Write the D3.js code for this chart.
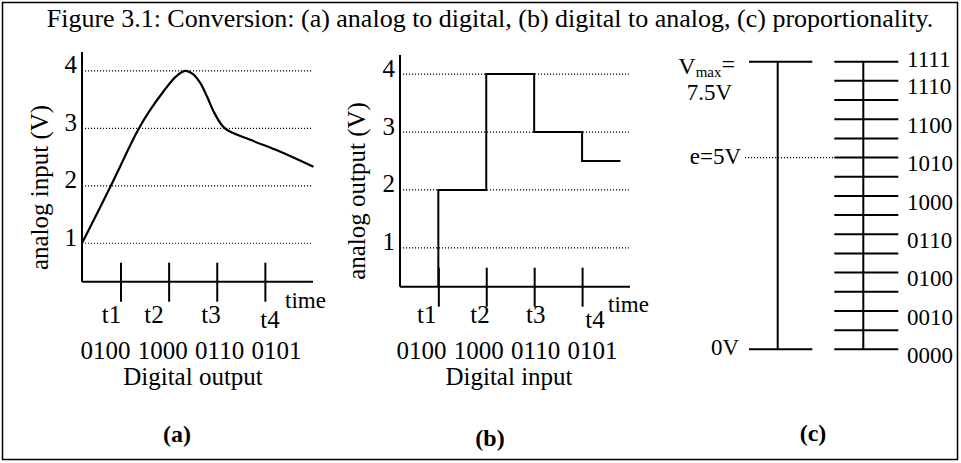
<!DOCTYPE html>
<html><head><meta charset="utf-8">
<script src="https://cdn.jsdelivr.net/npm/d3@7"></script>
<style>
html,body{margin:0;padding:0;background:#fff;}
svg{display:block;}
text{font-family:"Liberation Serif","Times New Roman",Times,serif;fill:#000;}
</style></head>
<body>
<svg id="c" width="961" height="463"></svg>
<script>
// ---------- data ----------
const titleText = "Figure 3.1: Conversion: (a) analog to digital, (b) digital to analog, (c) proportionality.";
const voltTicks = [1, 2, 3, 4];
const sampleTimes = [0.8, 1.8, 2.8, 3.8];
const sampleLabels = ["t1", "t2", "t3", "t4"];
const digitalCodes = ["0100", "1000", "0110", "0101"];
// analog input curve (time, volts)
const analogTime = [0, 0.6, 1.15, 1.4, 1.7, 1.95, 2.14, 2.3, 2.45, 2.6, 2.75, 2.97, 3.5, 4.1, 4.81];
const analogVolt = [1.0, 2.0, 2.95, 3.3, 3.65, 3.9, 4.0, 3.95, 3.8, 3.55, 3.27, 3.0, 2.8, 2.6, 2.33];
// analog output steps (time of change, held level)
const stepTime = [0.8, 1.8, 2.8, 3.8, 4.6];
const stepVolt = [2, 4, 3, 2.5, 2.5];
// proportionality
const vMax = 7.5;
const eVolt = 5;
const nCodes = 16;
const ladderLabels = ["1111", "1110", "1100", "1010", "1000", "0110", "0100", "0010", "0000"];

// ---------- drawing ----------
const svg = d3.select("#c");
const F = '"Liberation Serif","Times New Roman",serif';

svg.append("rect").attr("x", 2.5).attr("y", 2.5).attr("width", 955).attr("height", 457)
  .attr("fill", "none").attr("stroke", "#000").attr("stroke-width", 1.5);

svg.append("text").attr("x", 490).attr("y", 27).attr("text-anchor", "middle")
  .attr("font-size", 26).text(titleText);

const tDomain = [0, 4.8], vDomain = [0.33, 4.33];

function panel(opt) {
  const x = d3.scaleLinear().domain(tDomain).range([opt.x0, opt.x1]);
  const y = d3.scaleLinear().domain(vDomain).range([opt.yb, opt.yt]);
  const g = svg.append("g");
  // dotted gridlines
  g.selectAll("line.grid").data(voltTicks).join("line")
    .attr("x1", x(0)).attr("x2", x(tDomain[1]) - 1)
    .attr("y1", d => y(d)).attr("y2", d => y(d))
    .attr("stroke", "#000").attr("stroke-width", 1.2).attr("stroke-dasharray", "1.1,1.9");
  // y axis
  const ya = d3.axisLeft(y).tickValues(voltTicks).tickSize(0).tickPadding(5).tickFormat(d3.format("d"));
  const yg = g.append("g").attr("transform", `translate(${x(0)},0)`).call(ya);
  yg.select(".domain").remove();
  yg.selectAll("text").attr("font-size", 25).attr("font-family", F).attr("dy", "0.08em");
  g.append("line").attr("x1", x(0)).attr("x2", x(0)).attr("y1", y(vDomain[0])).attr("y2", y(vDomain[1]))
    .attr("stroke", "#000").attr("stroke-width", 2);
  // x axis
  g.append("line").attr("x1", x(0)).attr("x2", x(tDomain[1])).attr("y1", y(vDomain[0])).attr("y2", y(vDomain[0]))
    .attr("stroke", "#000").attr("stroke-width", 2);
  const xa = d3.axisBottom(x).tickValues(sampleTimes).tickSize(20).tickFormat("");
  const xg = g.append("g").attr("transform", `translate(0,${y(vDomain[0])})`).call(xa);
  xg.select(".domain").remove();
  xg.selectAll(".tick line").attr("y1", -19).attr("stroke-width", 2);
  // tick labels
  g.selectAll("text.tl").data(sampleLabels).join("text").attr("class", "tl")
    .attr("x", (d, i) => x(sampleTimes[i]) + opt.tdx[i]).attr("y", (d, i) => i === 3 ? opt.tb + 4.5 : opt.tb)
    .attr("text-anchor", "middle").attr("font-size", 25).text(d => d);
  g.append("text").attr("x", opt.timeX).attr("y", opt.timeY).attr("font-size", 23).text("time");
  // y label
  g.append("text").attr("transform", `translate(${opt.ylx},${opt.yly}) rotate(-90)`)
    .attr("text-anchor", "middle").attr("font-size", 25).text(opt.ylabel);
  // code row and caption
  g.append("text").attr("x", opt.cx).attr("y", 359).attr("text-anchor", "middle")
    .attr("font-size", 25).attr("word-spacing", "1px").text(digitalCodes.join(" "));
  g.append("text").attr("x", opt.cx + 2).attr("y", 385).attr("text-anchor", "middle")
    .attr("font-size", 25).text(opt.caption);
  g.append("text").attr("x", opt.px).attr("y", opt.py).attr("text-anchor", "middle")
    .attr("font-size", 24).attr("font-weight", "bold").text(opt.plabel);
  return {g, x, y};
}

// (a) analog to digital
const A = panel({x0: 82, x1: 313, yb: 281.7, yt: 52, tdx: [-9, -14.6, -5.7, 5.2], tb: 323,
  timeX: 285, timeY: 308, ylx: 48, yly: 187.5, ylabel: "analog input (V)",
  cx: 191, caption: "Digital output", px: 177, py: 442, plabel: "(a)"});
const curve = d3.line().x(d => A.x(d[0])).y(d => A.y(d[1])).curve(d3.curveCatmullRom.alpha(0.5));
A.g.append("path").attr("d", curve(analogTime.map((t, i) => [t, analogVolt[i]])))
  .attr("fill", "none").attr("stroke", "#000").attr("stroke-width", 2.2);

// (b) digital to analog
const B = panel({x0: 400, x1: 630, yb: 286.7, yt: 55, tdx: [-11.6, -6.2, 1.6, 13], tb: 323,
  timeX: 608, timeY: 311.5, ylx: 364.5, yly: 191, ylabel: "analog output (V)",
  cx: 507, caption: "Digital input", px: 490, py: 446, plabel: "(b)"});
const stepPts = [[stepTime[0], vDomain[0]]].concat(stepTime.map((t, i) => [t, stepVolt[i]]));
const step = d3.line().x(d => B.x(d[0])).y(d => B.y(d[1])).curve(d3.curveStepAfter);
B.g.append("path").attr("d", step(stepPts))
  .attr("fill", "none").attr("stroke", "#000").attr("stroke-width", 2);

// (c) proportionality
const yc = d3.scaleLinear().domain([0, vMax]).range([349.3, 61.7]);
const lev = d3.scaleLinear().domain([0, nCodes - 1]).range([0, vMax]);
const gc = svg.append("g");
const barX = 777.7, ladX = 863.3;
gc.append("line").attr("x1", barX).attr("x2", barX).attr("y1", yc(0)).attr("y2", yc(vMax))
  .attr("stroke", "#000").attr("stroke-width", 2);
[0, vMax].forEach(v => gc.append("line").attr("x1", 749).attr("x2", 812.3).attr("y1", yc(v)).attr("y2", yc(v))
  .attr("stroke", "#000").attr("stroke-width", 2));
gc.append("line").attr("x1", 745).attr("x2", 834).attr("y1", yc(eVolt)).attr("y2", yc(eVolt))
  .attr("stroke", "#000").attr("stroke-width", 1.2).attr("stroke-dasharray", "1.1,1.9");
gc.append("line").attr("x1", ladX).attr("x2", ladX).attr("y1", yc(0)).attr("y2", yc(vMax))
  .attr("stroke", "#000").attr("stroke-width", 2);
gc.selectAll("line.rung").data(d3.range(nCodes)).join("line").attr("class", "rung")
  .attr("x1", 834.3).attr("x2", 898.3).attr("y1", d => yc(lev(d))).attr("y2", d => yc(lev(d)))
  .attr("stroke", "#000").attr("stroke-width", 2);
gc.selectAll("text.code").data(ladderLabels).join("text").attr("class", "code")
  .attr("x", 907).attr("y", d => { const c = parseInt(d, 2); return yc(lev(c)) + (c === nCodes - 1 ? 5.3 : 13.6); })
  .attr("font-size", 23).text(d => d);
const vt = gc.append("text").attr("x", 735).attr("y", 74).attr("text-anchor", "end").attr("font-size", 24);
vt.append("tspan").text("V");
vt.append("tspan").attr("font-size", 15).attr("dy", 3).text("max");
vt.append("tspan").attr("dy", -5).text("=");
gc.append("text").attr("x", 732).attr("y", 100).attr("text-anchor", "end").attr("font-size", 23).text(vMax + "V");
gc.append("text").attr("x", 741).attr("y", 164).attr("text-anchor", "end").attr("font-size", 23).text("e=" + eVolt + "V");
gc.append("text").attr("x", 739).attr("y", 355).attr("text-anchor", "end").attr("font-size", 23).text("0V");
gc.append("text").attr("x", 813).attr("y", 441).attr("text-anchor", "middle")
  .attr("font-size", 24).attr("font-weight", "bold").text("(c)");
</script>
</body></html>
